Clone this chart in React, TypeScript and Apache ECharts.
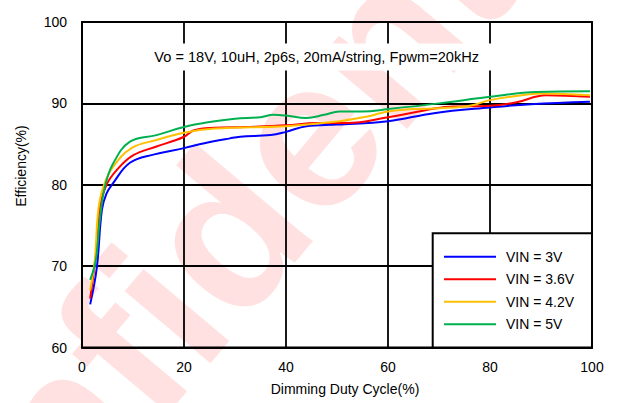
import React, { useEffect, useRef } from "react";
import * as echarts from "echarts";

const seriesNames = ["VIN = 3V", "VIN = 3.6V", "VIN = 4.2V", "VIN = 5V"];
const seriesColors = ["#0000ff", "#ff0000", "#ffc000", "#00b050"];

const duty3 = [1.6, 2.9, 3.9, 4.8, 6.1, 9.4, 14, 20, 24, 29, 31, 37, 40, 44, 50, 60, 69, 80, 88, 99.6];
const eff3 = [65.3, 69.8, 76.9, 78.9, 80.2, 82.7, 83.7, 84.5, 85.1, 85.7, 85.9, 86.1, 86.5, 87.2, 87.4, 87.8, 88.8, 89.5, 89.9, 90.2];

const duty36 = [1.6, 2.9, 3.5, 4.8, 6.8, 10, 14.6, 18, 20, 22, 26, 32, 40, 46, 52, 60, 66, 72, 80, 85, 91, 99.6];
const eff36 = [66.0, 72.4, 77.3, 80.0, 81.8, 83.6, 84.7, 85.4, 85.9, 86.7, 87.0, 87.1, 87.3, 87.6, 87.6, 88.3, 89.0, 89.6, 89.7, 90.1, 91.0, 90.8];

const duty42 = [1.6, 2.5, 3.2, 4.2, 6.1, 9.7, 14.6, 20, 26, 40, 49, 56, 60, 65, 70, 76, 80, 85, 90, 99.6];
const eff42 = [67.0, 70.7, 76.9, 79.8, 82.2, 84.5, 85.5, 86.4, 86.9, 87.2, 87.7, 88.4, 89.0, 89.3, 89.4, 89.7, 90.4, 90.9, 91.2, 91.0];

const duty5 = [1.6, 2.7, 3.5, 4.5, 6.1, 9.4, 14.6, 20, 25, 30, 35, 37.5, 40, 44, 47.5, 50.5, 55, 60, 70, 80, 89, 99.6];
const eff5 = [68.3, 70.7, 75.7, 79.8, 82.6, 85.3, 86.1, 87.1, 87.7, 88.1, 88.3, 88.6, 88.5, 88.2, 88.6, 89.0, 89.0, 89.3, 90.0, 90.8, 91.4, 91.5];

const dutyLists = [duty3, duty36, duty42, duty5];
const effLists = [eff3, eff36, eff42, eff5];

const xTitle = "Dimming Duty Cycle(%)";
const yTitle = "Efficiency(%)";
const note = "Vo = 18V, 10uH, 2p6s, 20mA/string, Fpwm=20kHz";
const watermark = "Confidential";

const FONT = "'Liberation Sans', Arial, sans-serif";

export default function App() {
  const ref = useRef<HTMLDivElement>(null);

  useEffect(() => {
    if (!ref.current) return;
    const chart = echarts.init(ref.current, undefined, { renderer: "svg" });

    const series = seriesNames.map((name, i) => ({
      name,
      type: "line",
      data: dutyLists[i].map((d, j) => [d, effLists[i][j]]),
      smooth: 0.4,
      symbol: "none",
      showSymbol: false,
      color: seriesColors[i],
      itemStyle: { color: seriesColors[i] },
      lineStyle: { color: seriesColors[i], width: 2 },
      z: 3,
    }));

    const axisCommon = {
      type: "value",
      axisLine: { show: true, lineStyle: { color: "#000", width: 1.8 } },
      axisTick: { show: false },
      splitLine: { show: true, lineStyle: { color: "#000", width: 1.8 } },
    };

    chart.setOption({
      animation: false,
      backgroundColor: "#fff",
      textStyle: { fontFamily: FONT },
      grid: {
        left: 82,
        right: 32,
        top: 22,
        bottom: 55.5,
        show: true,
        borderColor: "#000",
        borderWidth: 1.8,
        backgroundColor: "transparent",
      },
      xAxis: {
        ...axisCommon,
        min: 0,
        max: 100,
        interval: 20,
        axisLabel: { color: "#000", fontSize: 14, margin: 12, fontFamily: FONT },
      },
      yAxis: {
        ...axisCommon,
        min: 60,
        max: 100,
        interval: 10,
        axisLabel: { color: "#000", fontSize: 14, margin: 15, fontFamily: FONT },
      },
      legend: {
        orient: "vertical",
        left: 444,
        top: 249.7,
        padding: 0,
        icon: "rect",
        itemWidth: 52,
        itemHeight: 2,
        itemGap: 8.5,
        z: 20,
        data: seriesNames,
        textStyle: {
          color: "#000",
          fontSize: 14,
          lineHeight: 14,
          fontFamily: FONT,
          padding: [0, 0, 0, 5],
        },
      },
      graphic: [
        {
          type: "text",
          x: 228,
          y: 228,
          rotation: 0.873,
          z: -10,
          silent: true,
          style: {
            text: watermark,
            font: "bold 212px 'Liberation Sans', Arial, sans-serif",
            fill: "#ffe1e1",
            align: "center",
            verticalAlign: "middle",
          },
        },
        {
          type: "text",
          x: 316.7,
          y: 57,
          z: 10,
          style: {
            text: note,
            fontSize: 14.6,
            fontFamily: FONT,
            fill: "#000",
            align: "center",
            verticalAlign: "middle",
            backgroundColor: "#fff",
            padding: [6, 14],
          },
        },
        {
          type: "text",
          x: 20.5,
          y: 166,
          rotation: Math.PI / 2,
          style: {
            text: yTitle,
            fontSize: 14,
            fontFamily: FONT,
            fill: "#000",
            align: "center",
            verticalAlign: "middle",
          },
        },
        {
          type: "text",
          x: 345,
          y: 389,
          style: {
            text: xTitle,
            fontSize: 14,
            fontFamily: FONT,
            fill: "#000",
            align: "center",
            verticalAlign: "middle",
          },
        },
        {
          type: "rect",
          z: 15,
          shape: { x: 432.7, y: 233.3, width: 159.3, height: 114.2 },
          style: { fill: "#fff", stroke: "#000", lineWidth: 2 },
        },
      ],
      series,
    });

    return () => chart.dispose();
  }, []);

  return (
    <div
      ref={ref}
      style={{ position: "absolute", left: 0, top: 0, width: 624, height: 403 }}
    />
  );
}
